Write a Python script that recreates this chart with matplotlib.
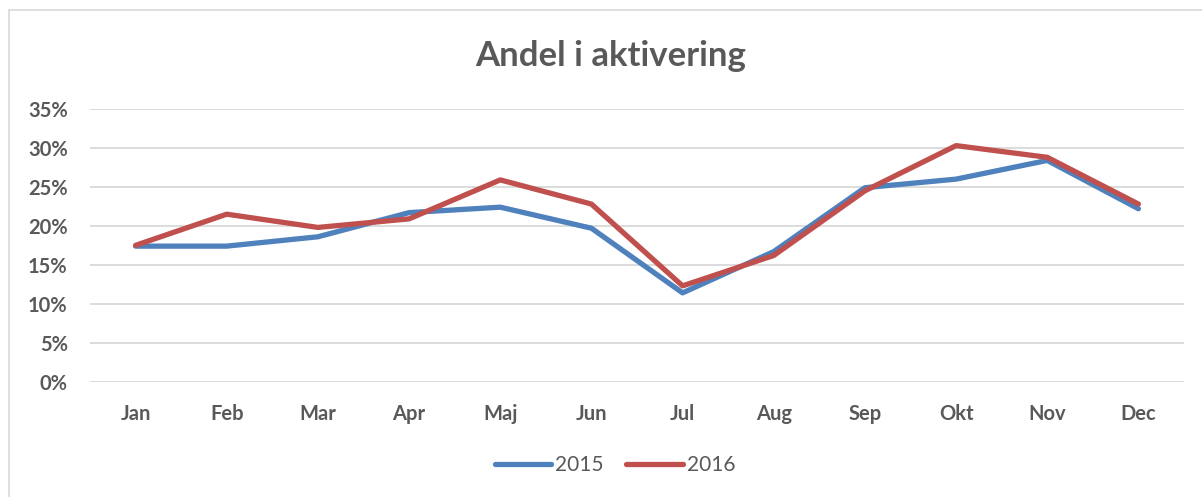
import matplotlib
matplotlib.use("Agg")
import matplotlib.pyplot as plt
from matplotlib.lines import Line2D
from matplotlib.ticker import PercentFormatter

months = ["Jan", "Feb", "Mar", "Apr", "Maj", "Jun", "Jul", "Aug", "Sep", "Okt", "Nov", "Dec"]
y2015 = [17.4, 17.4, 18.6, 21.7, 22.4, 19.7, 11.4, 16.7, 24.9, 26.0, 28.4, 22.2]
y2016 = [17.5, 21.5, 19.8, 20.9, 25.9, 22.8, 12.3, 16.2, 24.5, 30.3, 28.8, 22.8]

txt = "#595959"
W, H = 1202, 497

plt.rcParams['font.family'] = ['Lato', 'DejaVu Sans']

fig = plt.figure(figsize=(W / 100, H / 100), dpi=100)
ax = fig.add_axes([90 / W, (H - 381.7) / H, (1184 - 90) / W, (381.7 - 109) / H])

x = range(len(months))
ax.plot(x, y2015, color="#4F81BD", lw=3.8, solid_capstyle="round", solid_joinstyle="round", label="2015")
ax.plot(x, y2016, color="#C0504D", lw=3.8, solid_capstyle="round", solid_joinstyle="round", label="2016")

ax.set_xlim(-0.5, len(months) - 0.5)
ax.set_ylim(0, 35)
ax.set_yticks(range(0, 36, 5))
ax.yaxis.set_major_formatter(PercentFormatter(decimals=0))
ax.set_xticks(list(x))
ax.set_xticklabels(months)
ax.grid(axis="y", color="#D9D9D9", lw=1.3)
ax.set_axisbelow(True)
for s in ax.spines.values():
    s.set_visible(False)
ax.tick_params(axis="y", length=0, pad=16, labelsize=14.5, labelcolor=txt)
ax.tick_params(axis="x", length=0, pad=16, labelsize=14.5, labelcolor=txt)
for lab in ax.get_xticklabels() + ax.get_yticklabels():
    lab.set_fontweight("bold")

fig.text(611 / W, 1 - 56 / H, "Andel i aktivering", ha="center", va="center",
         fontsize=25, fontweight="bold", color=txt)

leg = fig.legend(loc="center", bbox_to_anchor=(615 / W, 1 - 465 / H), ncol=2, frameon=False,
                 fontsize=15, handlelength=2.7, handletextpad=0.2, columnspacing=1.1)
for t in leg.get_texts():
    t.set_color(txt)

# outer chart border (top and left edges visible)
fig.add_artist(Line2D([9 / W, 1], [1 - 10 / H, 1 - 10 / H], color="#D9D9D9", lw=1.2))
fig.add_artist(Line2D([9 / W, 9 / W], [0, 1 - 10 / H], color="#D9D9D9", lw=1.2))

fig.savefig("out.png", dpi=100)
